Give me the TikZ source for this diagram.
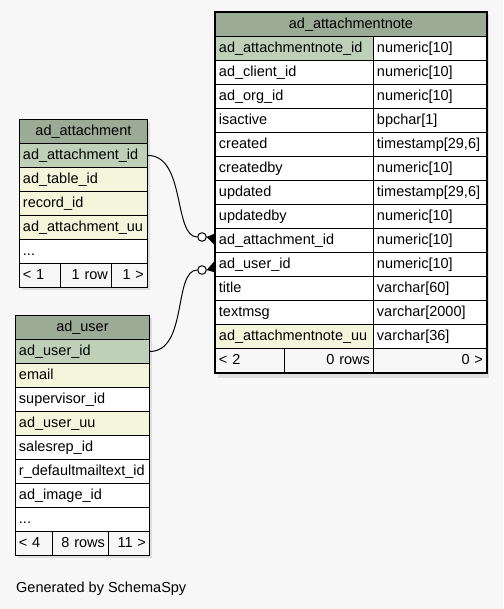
\documentclass[tikz,border=0pt]{standalone}
\usepackage{fontspec}
\setmainfont{Liberation Sans}
\definecolor{bg}{HTML}{F7F7F7}
\definecolor{hdr}{HTML}{9CAB96}
\definecolor{pk}{HTML}{BED1B8}
\definecolor{idx}{HTML}{F5F5DC}
\definecolor{shadow}{HTML}{DEDEDE}
\newcommand{\tcell}[7]{% name, x, y, width, fill, align, text
  \pgfmathsetmacro\tcw{#4-7}%
  \node[cell,fill=#5,minimum width=#4pt,text width=\tcw pt,align=#6] (#1) at (#2,#3) {#7};}
\begin{document}
\begin{tikzpicture}[x=1pt,y=-1pt,
  cell/.style={draw=black,line width=0.9pt,anchor=north west,minimum height=24pt,
    inner xsep=3.5pt,inner ysep=0pt,text height=10.6pt,text depth=3.4pt,
    font=\fontsize{14.5}{17}\selectfont},
  edge/.style={draw=black,line width=1pt},
  dot/.style={circle,draw=black,fill=white,line width=1pt,minimum size=8.5pt,inner sep=0pt}]
\useasboundingbox[fill=bg] (0,0) rectangle (503,609);
% shadows
\fill[shadow] (22,122) rectangle (150,290);
\fill[shadow] (18,318) rectangle (152,558);
\fill[shadow] (218,15) rectangle (489,378);
% ad_attachment
\tcell{a0}{19}{119}{128}{hdr}{center}{ad\_attachment}
\tcell{a1}{19}{143}{128}{pk}{left}{ad\_attachment\_id}
\tcell{a2}{19}{167}{128}{idx}{left}{ad\_table\_id}
\tcell{a3}{19}{191}{128}{idx}{left}{record\_id}
\tcell{a4}{19}{215}{128}{idx}{left}{ad\_attachment\_uu}
\tcell{a5}{19}{239}{128}{white}{left}{...}
\tcell{af1}{19}{263}{41}{bg}{left}{< 1}
\tcell{af2}{60}{263}{51}{bg}{right}{1 row}
\tcell{af3}{111}{263}{36}{bg}{right}{1 >}
% ad_user
\tcell{u0}{15}{315}{134}{hdr}{center}{ad\_user}
\tcell{u1}{15}{339}{134}{pk}{left}{ad\_user\_id}
\tcell{u2}{15}{363}{134}{idx}{left}{email}
\tcell{u3}{15}{387}{134}{white}{left}{supervisor\_id}
\tcell{u4}{15}{411}{134}{idx}{left}{ad\_user\_uu}
\tcell{u5}{15}{435}{134}{white}{left}{salesrep\_id}
\tcell{u6}{15}{459}{134}{white}{left}{r\_defaultmailtext\_id}
\tcell{u7}{15}{483}{134}{white}{left}{ad\_image\_id}
\tcell{u8}{15}{507}{134}{white}{left}{...}
\tcell{uf1}{15}{531}{37}{bg}{left}{< 4}
\tcell{uf2}{52}{531}{56}{bg}{right}{8 rows}
\tcell{uf3}{108}{531}{41}{bg}{right}{11 >}
% ad_attachmentnote
\tcell{n0}{215}{12}{271}{hdr}{center}{ad\_attachmentnote}
\tcell{n1}{215}{36}{158}{pk}{left}{ad\_attachmentnote\_id}
\tcell{t1}{373}{36}{113}{white}{left}{numeric[10]}
\tcell{n2}{215}{60}{158}{white}{left}{ad\_client\_id}
\tcell{t2}{373}{60}{113}{white}{left}{numeric[10]}
\tcell{n3}{215}{84}{158}{white}{left}{ad\_org\_id}
\tcell{t3}{373}{84}{113}{white}{left}{numeric[10]}
\tcell{n4}{215}{108}{158}{white}{left}{isactive}
\tcell{t4}{373}{108}{113}{white}{left}{bpchar[1]}
\tcell{n5}{215}{132}{158}{white}{left}{created}
\tcell{t5}{373}{132}{113}{white}{left}{timestamp[29,6]}
\tcell{n6}{215}{156}{158}{white}{left}{createdby}
\tcell{t6}{373}{156}{113}{white}{left}{numeric[10]}
\tcell{n7}{215}{180}{158}{white}{left}{updated}
\tcell{t7}{373}{180}{113}{white}{left}{timestamp[29,6]}
\tcell{n8}{215}{204}{158}{white}{left}{updatedby}
\tcell{t8}{373}{204}{113}{white}{left}{numeric[10]}
\tcell{n9}{215}{228}{158}{white}{left}{ad\_attachment\_id}
\tcell{t9}{373}{228}{113}{white}{left}{numeric[10]}
\tcell{n10}{215}{252}{158}{white}{left}{ad\_user\_id}
\tcell{t10}{373}{252}{113}{white}{left}{numeric[10]}
\tcell{n11}{215}{276}{158}{white}{left}{title}
\tcell{t11}{373}{276}{113}{white}{left}{varchar[60]}
\tcell{n12}{215}{300}{158}{white}{left}{textmsg}
\tcell{t12}{373}{300}{113}{white}{left}{varchar[2000]}
\tcell{n13}{215}{324}{158}{idx}{left}{ad\_attachmentnote\_uu}
\tcell{t13}{373}{324}{113}{white}{left}{varchar[36]}
\tcell{nf1}{215}{348}{69}{bg}{left}{< 2}
\tcell{nf2}{284}{348}{89}{bg}{right}{0 rows}
\tcell{nf3}{373}{348}{113}{bg}{right}{0 >}
\draw[line width=2.6pt] (n0.north west) rectangle (nf3.south east);
% relationships
\node[dot] (c1) at (202,237) {};
\node[dot] (c2) at (202,270) {};
\coordinate (e1) at ([yshift=1]n9.west);
\coordinate (e2) at ([yshift=-2]n10.west);
\draw[edge] (a1.east) .. controls +(38,0) and +(-24,0) .. (c1.west);
\draw[edge] (u1.east) .. controls +(38,0) and +(-24,0) .. (c2.west);
\fill (c1.east) -- ([yshift=-6]e1) -- ([yshift=6]e1) -- cycle;
\draw[edge] (c1.east) -- (e1);
\fill (c2.east) -- ([yshift=-6]e2) -- ([yshift=6]e2) -- cycle;
\draw[edge] (c2.east) -- (e2);
\node[anchor=west,inner sep=0pt,font=\fontsize{14.5}{17}\selectfont] (gen) at (16,589) {Generated by SchemaSpy};
\end{tikzpicture}
\end{document}
